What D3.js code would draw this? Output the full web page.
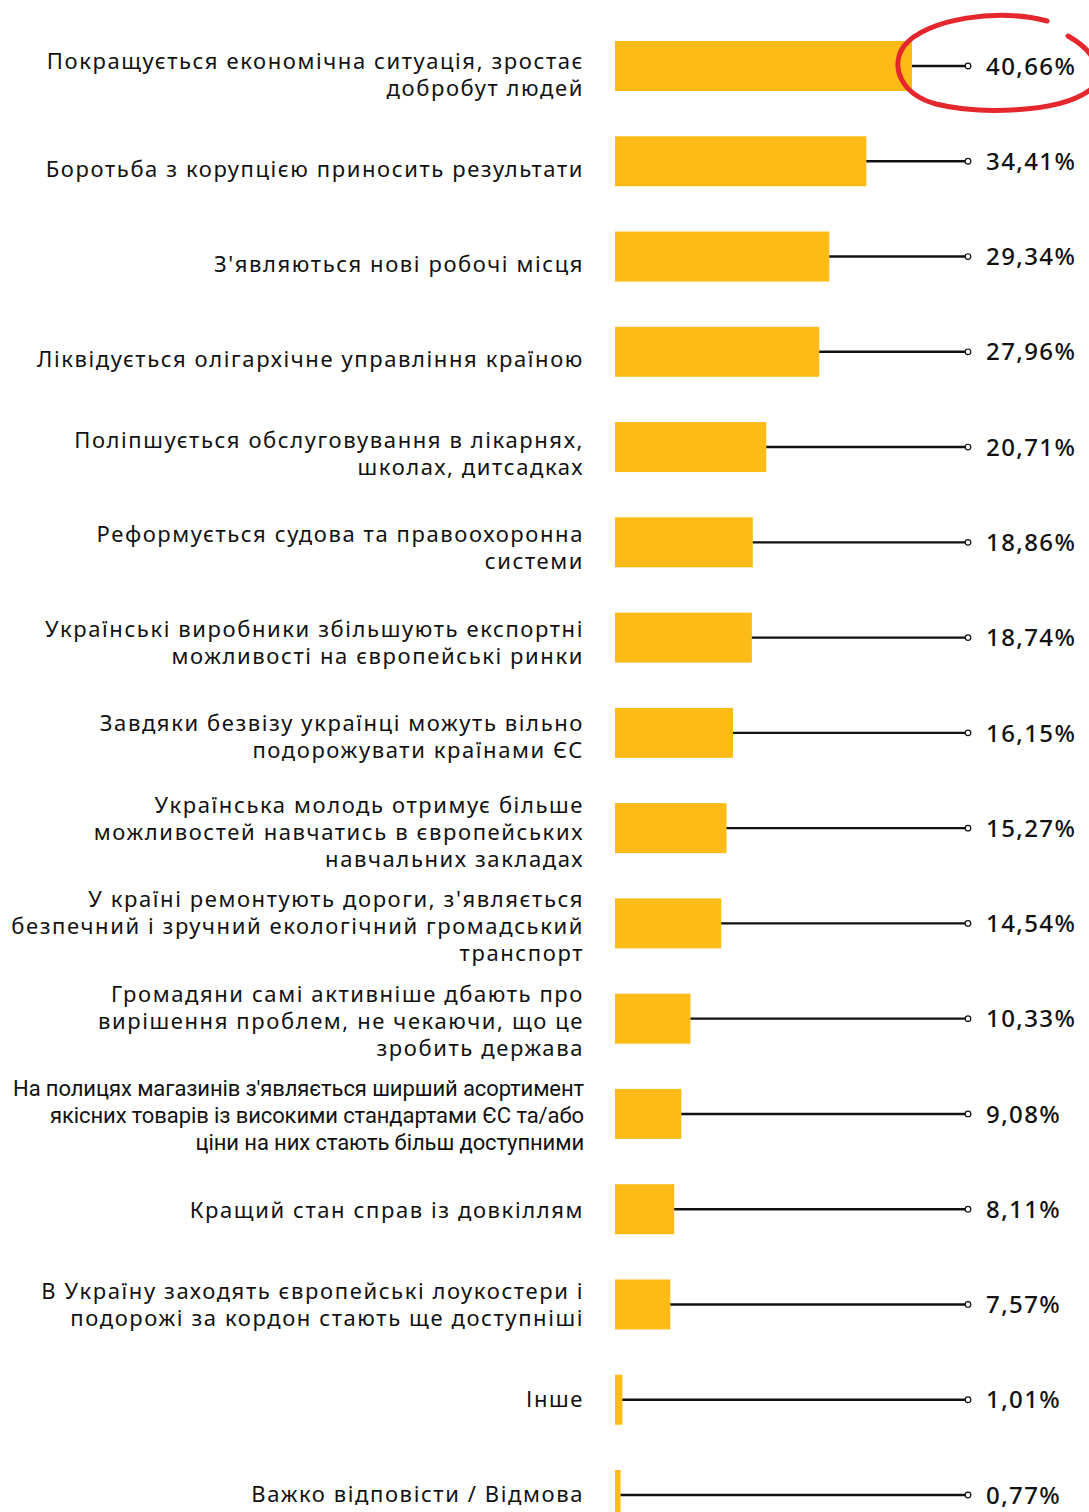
<!DOCTYPE html>
<html>
<head>
<meta charset="utf-8">
<script src="https://cdn.jsdelivr.net/npm/d3@7"></script>
<style>
  body { margin: 0; background: #fff; }
  .cat { font-family: "Noto Sans", sans-serif; font-size: 22px; fill: #111; letter-spacing: 1.6px; }
  .cat.narrow { font-family: Roboto, sans-serif; letter-spacing: -0.1px; }
  .val { font-family: "Noto Sans", sans-serif; font-size: 24px; font-weight: 500; fill: #111; letter-spacing: 1.4px; }
</style>
</head>
<body>
<div id="chart"></div>
<script>
// categories (each label split into its display lines)
var categories = [
  ["Покращується економічна ситуація, зростає", "добробут людей"],
  ["Боротьба з корупцією приносить результати"],
  ["З'являються нові робочі місця"],
  ["Ліквідується олігархічне управління країною"],
  ["Поліпшується обслуговування в лікарнях,", "школах, дитсадках"],
  ["Реформується судова та правоохоронна", "системи"],
  ["Українські виробники збільшують експортні", "можливості на європейські ринки"],
  ["Завдяки безвізу українці можуть вільно", "подорожувати країнами ЄС"],
  ["Українська молодь отримує більше", "можливостей навчатись в європейських", "навчальних закладах"],
  ["У країні ремонтують дороги, з'являється", "безпечний і зручний екологічний громадський", "транспорт"],
  ["Громадяни самі активніше дбають про", "вирішення проблем, не чекаючи, що це", "зробить держава"],
  ["На полицях магазинів з'являється ширший асортимент", "якісних товарів із високими стандартами ЄС та/або", "ціни на них стають більш доступними"],
  ["Кращий стан справ із довкіллям"],
  ["В Україну заходять європейські лоукостери і", "подорожі за кордон стають ще доступніші"],
  ["Інше"],
  ["Важко відповісти / Відмова"]
];
var values = [40.66, 34.41, 29.34, 27.96, 20.71, 18.86, 18.74, 16.15, 15.27, 14.54, 10.33, 9.08, 8.11, 7.57, 1.01, 0.77];
var highlighted = 0;

var width = 1089, height = 1512;
var barLeft = 615, lineEnd = 968, valueX = 986, labelRight = 584;
var barH = 50, lineH = 27;

var svg = d3.select("#chart").append("svg")
  .attr("width", width)
  .attr("height", height);

var idx = d3.range(values.length);

var xScale = d3.scaleLinear()
  .domain([0, 40.66])
  .range([barLeft, 912]);

// bar centres
var yScale = d3.scalePoint()
  .domain(idx)
  .range([66, 1495]);

// label blocks sit on a slightly tighter grid
var yLabel = d3.scalePoint()
  .domain(idx)
  .range([75, 1494]);

var fmt = function(v) { return d3.format(".2f")(v).replace(".", ",") + "%"; };

var rows = svg.selectAll(".row")
  .data(idx)
  .enter()
  .append("g")
  .attr("class", "row");

rows.append("rect")
  .attr("class", "bar")
  .attr("x", barLeft)
  .attr("y", function(i) { return yScale(i) - barH / 2; })
  .attr("width", function(i) { return xScale(values[i]) - barLeft; })
  .attr("height", barH)
  .attr("fill", "#FCBB17");

rows.append("line")
  .attr("x1", function(i) { return xScale(values[i]); })
  .attr("x2", lineEnd)
  .attr("y1", function(i) { return yScale(i); })
  .attr("y2", function(i) { return yScale(i); })
  .attr("stroke", "#111")
  .attr("stroke-width", 2.4);

rows.append("circle")
  .attr("cx", lineEnd)
  .attr("cy", function(i) { return yScale(i); })
  .attr("r", 2.8)
  .attr("fill", "#fff")
  .attr("stroke", "#111")
  .attr("stroke-width", 1.2);

rows.append("text")
  .attr("class", "val")
  .attr("x", valueX)
  .attr("y", function(i) { return yScale(i); })
  .attr("dy", "0.36em")
  .text(function(i) { return fmt(values[i]); });

rows.append("text")
  .attr("class", function(i) { return categories[i][0].length > 46 ? "cat narrow" : "cat"; })
  .attr("text-anchor", "end")
  .each(function(i) {
    var lines = categories[i];
    var top = yLabel(i) - (lines.length - 1) * lineH / 2;
    d3.select(this).selectAll("tspan")
      .data(lines)
      .enter()
      .append("tspan")
      .attr("x", labelRight)
      .attr("y", function(d, k) { return top + k * lineH; })
      .attr("dy", "0.35em")
      .text(function(d) { return d; });
  });

// hand-drawn red ring around the top value
var cx = valueX + 10, cy = yScale(highlighted);
var ring = d3.path();
ring.moveTo(cx + 51, cy - 45);
ring.bezierCurveTo(cx + 5, cy - 58, cx - 70, cy - 48, cx - 92, cy - 20);
ring.bezierCurveTo(cx - 106, cy, cx - 96, cy + 28, cx - 60, cy + 38);
ring.bezierCurveTo(cx - 20, cy + 48, cx + 62, cy + 48, cx + 94, cy + 24);
ring.bezierCurveTo(cx + 110, cy + 8, cx + 100, cy - 14, cx + 72, cy - 30);

svg.append("path")
  .attr("d", ring.toString())
  .attr("fill", "none")
  .attr("stroke", "#E5262C")
  .attr("stroke-width", 5)
  .attr("stroke-linecap", "round");
</script>
</body>
</html>
